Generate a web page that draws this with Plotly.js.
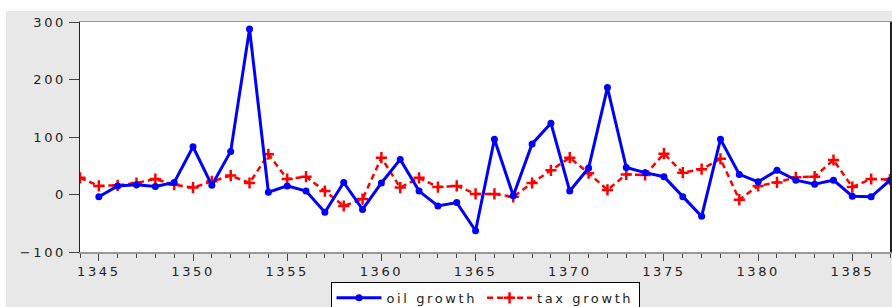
<!DOCTYPE html>
<html>
<head>
<meta charset="utf-8">
<script src="https://cdn.plot.ly/plotly-3.0.1.min.js"></script>
<style>
html,body{margin:0;padding:0;background:#fff;}
svg text{letter-spacing:2.6px;}
</style>
</head>
<body>
<div id="chart" style="width:892px;height:307px;"></div>
<script>
const taxYears = [1344,1345,1346,1347,1348,1349,1350,1351,1352,1353,1354,1355,1356,1357,1358,1359,1360,1361,1362,1363,1364,1365,1366,1367,1368,1369,1370,1371,1372,1373,1374,1375,1376,1377,1378,1379,1380,1381,1382,1383,1384,1385,1386,1387];
const taxGrowth = [29,15,16,20,27,17,12,23,33,20,70,27,31,6,-20,-8,64,12,29,13,15,1,1,-4,20,42,64,37,8,35,34,71,38,44,62,-9,15,21,30,31,60,13,27,26];
const oilYears = [1345,1346,1347,1348,1349,1350,1351,1352,1353,1354,1355,1356,1357,1358,1359,1360,1361,1362,1363,1364,1365,1366,1367,1368,1369,1370,1371,1372,1373,1374,1375,1376,1377,1378,1379,1380,1381,1382,1383,1384,1385,1386,1387];
const oilGrowth = [-4,15,17,14,21,83,16,75,288,4,15,6,-31,21,-26,20,61,6,-20,-14,-63,96,-2,88,124,6,46,186,47,38,31,-4,-38,96,35,22,42,25,18,25,-3,-4,25];
const seriesNames = ['oil growth','tax growth'];

const traces = [
  {
    x: taxYears, y: taxGrowth, name: seriesNames[1], type: 'scatter', mode: 'lines+markers',
    line: {color: '#ff0000', width: 2.5, dash: '6px,4px'},
    marker: {color: '#ff0000', size: 8, symbol: 'cross-thin', line: {color: '#ff0000', width: 2.5}}
  },
  {
    x: oilYears, y: oilGrowth, name: seriesNames[0], type: 'scatter', mode: 'lines+markers',
    line: {color: '#0000ff', width: 3},
    marker: {color: '#0000ff', size: 7, symbol: 'circle'}
  }
];

const layout = {
  width: 892, height: 307,
  margin: {l: 80, r: 2, t: 22, b: 55, autoexpand: false},
  paper_bgcolor: '#e8e8e8',
  plot_bgcolor: '#ffffff',
  font: {family: 'DejaVu Sans, Verdana, sans-serif', size: 13, color: '#222'},
  showlegend: true,
  legend: {
    orientation: 'h', x: 0.5, xanchor: 'center', y: -0.13, yanchor: 'top',
    traceorder: 'reversed', itemwidth: 45,
    bgcolor: '#ffffff', bordercolor: '#000000', borderwidth: 1,
    font: {size: 13, color: '#222'}
  },
  xaxis: {
    range: [1344, 1387], tick0: 1345, dtick: 5,
    ticks: 'outside', ticklen: 7, tickcolor: '#444', tickwidth: 1,
    showline: true, linecolor: '#999', linewidth: 1.5, mirror: true,
    showgrid: false, zeroline: false,
    minor: {dtick: 1, ticks: 'outside', ticklen: 4, tickcolor: '#444', showgrid: false},
    tickfont: {size: 13, color: '#222'}
  },
  yaxis: {
    range: [-100, 300], dtick: 100,
    ticks: 'outside', ticklen: 10, tickcolor: '#444',
    showline: true, linecolor: '#222', linewidth: 1.5, mirror: true,
    showgrid: false, zeroline: false,
    tickfont: {size: 13, color: '#222'}
  },
  shapes: [
    {type: 'rect', xref: 'paper', yref: 'paper', x0: -0.2, x1: 1.1, y0: 1.048, y1: 1.2, fillcolor: '#ffffff', line: {width: 0}, layer: 'below'},
    {type: 'rect', xref: 'paper', yref: 'paper', x0: -0.2, x1: -0.0914, y0: -0.3, y1: 1.2, fillcolor: '#ffffff', line: {width: 0}, layer: 'below'}
  ]
};

Plotly.newPlot('chart', traces, layout, {displayModeBar: false, staticPlot: true});
</script>
</body>
</html>
